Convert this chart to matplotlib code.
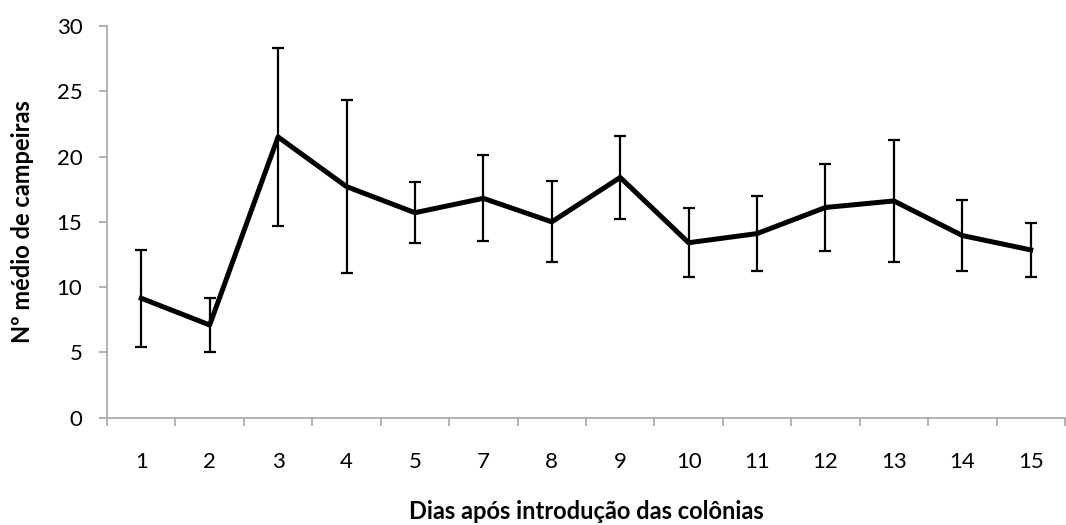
#!/usr/bin/env python3

import numpy as np
from matplotlib import pyplot as plt

############## DATA ################

dias = ['1', '2', '3', '4', '5', '7', '8', '9', '10', '11', '12', '13', '14', '15']
media = [9.15, 7.1, 21.5, 17.7, 15.7, 16.8, 15.0, 18.4, 13.4, 14.1, 16.1, 16.6, 13.95, 12.85]
erro = [3.7, 2.1, 6.8, 6.6, 2.35, 3.3, 3.1, 3.15, 2.65, 2.9, 3.3, 4.7, 2.75, 2.05]

############## PLOT ################

plt.rcParams['font.family'] = ['Lato', 'DejaVu Sans']
grey = '#a6a6a6'

fig = plt.figure(figsize=(10.66, 5.25), dpi=100)
ax = fig.add_axes([0.1004, 0.2044, 0.8986, 0.7461])

x = np.arange(len(dias))
ax.errorbar(x, media, yerr=erro, color='black', linewidth=3.6,
            elinewidth=1.6, capsize=4, capthick=1.6)

ax.set_xlim(-0.5, len(dias) - 0.5)
ax.set_ylim(0, 30)
ax.set_yticks(range(0, 31, 5))

# category labels centred, tick marks between categories
ax.set_xticks(x)
ax.set_xticklabels(dias)
ax.set_xticks(np.arange(-0.5, len(dias), 1), minor=True)
ax.tick_params(axis='x', which='major', length=0, pad=25, labelsize=16)
ax.tick_params(axis='x', which='minor', length=5.8, width=1.2, color=grey)
ax.tick_params(axis='y', length=5.8, width=1.2, color=grey, labelsize=16, pad=12)

for side in ['top', 'right']:
    ax.spines[side].set_visible(False)
for side in ['left', 'bottom']:
    ax.spines[side].set_color(grey)
    ax.spines[side].set_linewidth(1.2)

ax.set_xlabel('Dias após introdução das colônias', fontsize=17, fontweight='bold', labelpad=20)
ax.set_ylabel('Nº médio de campeiras', fontsize=17, fontweight='bold', labelpad=16)

plt.savefig('out.png', dpi=100)
plt.close()
